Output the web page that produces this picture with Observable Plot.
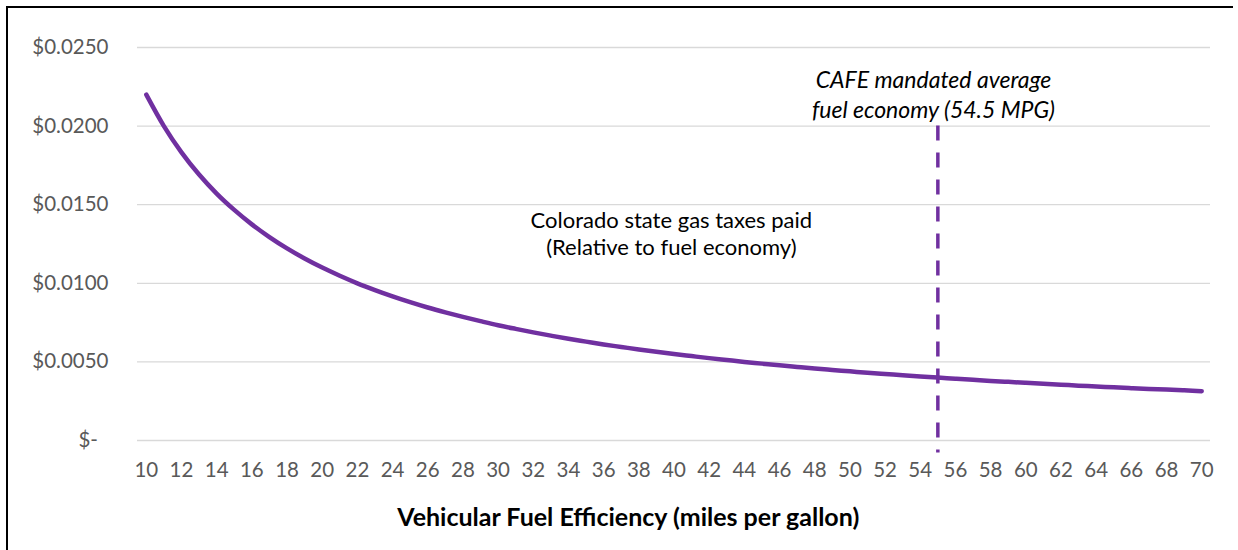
<!DOCTYPE html>
<html>
<head>
<meta charset="utf-8">
<script src="https://cdn.jsdelivr.net/npm/d3@7"></script>
<script src="https://cdn.jsdelivr.net/npm/@observablehq/plot@0.6"></script>
<style>
  html, body { margin: 0; padding: 0; background: #fff; }
  #wrap { position: relative; width: 1238px; height: 550px; overflow: hidden; }
  #frame { position: absolute; left: 6px; top: 6px; width: 1227px; height: 560px;
           border-left: 2px solid #000; border-top: 2px solid #000; box-sizing: border-box; pointer-events: none; }
</style>
</head>
<body>
<div id="wrap"><div id="frame"></div></div>
<script>
// Fuel efficiency (mpg) categories
const mpg = d3.range(10, 71);
// Colorado state gas tax paid per mile ($)
const taxPerMile = [
  0.02200, 0.02000, 0.01833, 0.01692, 0.01571, 0.01467, 0.01375, 0.01294, 0.01222, 0.01158,
  0.01100, 0.01048, 0.01000, 0.00957, 0.00917, 0.00880, 0.00846, 0.00815, 0.00786, 0.00759,
  0.00733, 0.00710, 0.00688, 0.00667, 0.00647, 0.00629, 0.00611, 0.00595, 0.00579, 0.00564,
  0.00550, 0.00537, 0.00524, 0.00512, 0.00500, 0.00489, 0.00478, 0.00468, 0.00458, 0.00449,
  0.00440, 0.00431, 0.00423, 0.00415, 0.00407, 0.00400, 0.00393, 0.00386, 0.00379, 0.00373,
  0.00367, 0.00361, 0.00355, 0.00349, 0.00344, 0.00338, 0.00333, 0.00328, 0.00324, 0.00319,
  0.00314
];
const xTicks = d3.range(10, 71, 2);
const yTicks = [0, 0.005, 0.01, 0.015, 0.02, 0.025];
const cafeMpg = 55;
const cafeLabel = ["CAFE mandated average", "fuel economy (54.5 MPG)"];
const curveLabel = ["Colorado state gas taxes paid", "(Relative to fuel economy)"];
const xTitle = "Vehicular Fuel Efficiency (miles per gallon)";

const data = mpg.map((m, i) => ({mpg: m, tax: taxPerMile[i]}));

const font = "Lato, 'Open Sans', sans-serif";
const purple = "#7030A0";

const chart = Plot.plot({
  width: 1238,
  height: 550,
  marginLeft: 137,
  marginRight: 28,
  marginTop: 47,
  marginBottom: 110,
  style: {fontFamily: font, fontSize: "16px", background: "transparent"},
  x: {domain: [9.5, 70.5], axis: null},
  y: {domain: [0, 0.025], axis: null},
  marks: [
    Plot.ruleY(yTicks, {stroke: "#D9D9D9", strokeWidth: 1.3}),
    Plot.text(yTicks, {
      x: 9.5, y: d => d, dx: -29, textAnchor: "end",
      text: d => d === 0 ? "$-\u00a0\u00a0" : "$" + d.toFixed(4),
      fill: "#595959", fontSize: 20.5
    }),
    Plot.text(xTicks, {
      x: d => d, y: 0, dy: 30, text: d => String(d),
      fill: "#595959", fontSize: 20.5
    }),
    Plot.ruleX([cafeMpg], {
      y1: 0.02, y2: -0.0008, stroke: purple, strokeWidth: 3.5, strokeDasharray: "15,12"
    }),
    Plot.line(data, {
      x: "mpg", y: "tax", stroke: purple, strokeWidth: 4.5,
      strokeLinecap: "round", strokeLinejoin: "round", curve: "monotone-x"
    }),
    Plot.text([0], {
      x: 37.4, y: 0, dy: 77, text: () => xTitle,
      fill: "#000", fontWeight: "bold", fontSize: 25
    }),
    Plot.text([0], {
      x: 39.85, y: 0.01323, text: () => curveLabel.join("\n"),
      fill: "#000", fontSize: 22, lineHeight: 1.27
    }),
    Plot.text([0], {
      x: 54.75, y: 0.02205, text: () => cafeLabel.join("\n"),
      fill: "#000", fontSize: 23, fontStyle: "italic", lineHeight: 1.3
    })
  ]
});
document.getElementById("wrap").prepend(chart);
chart.style.position = "absolute";
chart.style.left = "0";
chart.style.top = "0";
</script>
</body>
</html>
